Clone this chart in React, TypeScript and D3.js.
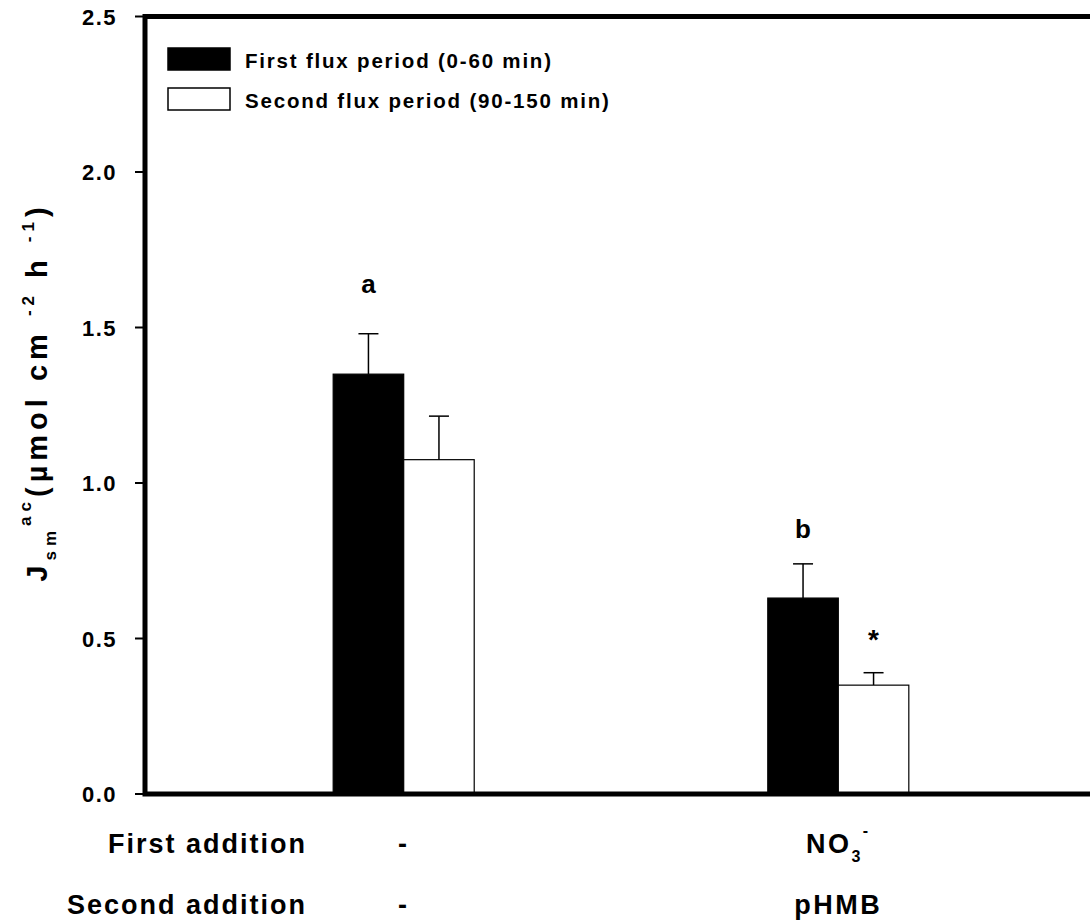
import React from 'react';
import * as d3 from 'd3';

// treatment groups along the x axis
const groups = ['control', 'nitrate-pHMB'];
const series = ['First flux period (0-60 min)', 'Second flux period (90-150 min)'];
const seriesFill = ['#000000', '#ffffff'];

// Jsm ac values
const firstFlux = [1.35, 0.63];
const secondFlux = [1.075, 0.35];
const firstErr = [0.13, 0.11];
const secondErr = [0.14, 0.04];
const firstMarks = ['a', 'b'];
const secondMarks = ['', '*'];
// gap (px) between error-bar cap and letter baseline
const firstMarkGap = [41, 26];
const secondMarkGap = [0, 24];

const yTicks = [0, 0.5, 1.0, 1.5, 2.0, 2.5];

// rows under the axis
const firstAddition = ['-', 'NO3-'];
const secondAddition = ['-', 'pHMB'];

const W = 1090;
const H = 923;
const left = 145;
const right = 1097;
const top = 16.5;
const bottom = 794;
const FONT = '"Liberation Sans", Arial, sans-serif';

export default function App() {
  const y = d3.scaleLinear().domain([0, 2.5]).range([bottom, top]);
  const x = d3
    .scaleBand<string>()
    .domain(groups)
    .range([left, right])
    .paddingInner(0.6755)
    .paddingOuter(0.433);
  const xs = d3.scaleBand<number>().domain([0, 1]).range([0, x.bandwidth()]);
  const values = [firstFlux, secondFlux];
  const errs = [firstErr, secondErr];
  const marks = [firstMarks, secondMarks];
  const gaps = [firstMarkGap, secondMarkGap];

  const sub = (t: string, dy: number, size: number, key: string) => (
    <tspan key={key} dy={dy} fontSize={size}>
      {t}
    </tspan>
  );

  const renderAddition = (label: string, cx: number, yb: number) => {
    if (label === 'NO3-') {
      return (
        <text x={cx} y={yb} textAnchor="middle" fontSize={27} letterSpacing={2.5}>
          NO
          <tspan dy={9} fontSize={16}>3</tspan>
          <tspan dy={-26} fontSize={16}>-</tspan>
        </text>
      );
    }
    return (
      <text x={cx} y={yb} textAnchor="middle" fontSize={27} letterSpacing={2.5}>
        {label}
      </text>
    );
  };

  return (
    <svg
      width={W}
      height={H}
      style={{ position: 'absolute', left: 0, top: 0, background: '#fff' }}
      fontFamily={FONT}
      fontWeight="bold"
    >
      {/* bars */}
      {groups.map((g, gi) =>
        series.map((s, si) => {
          const x0 = (x(g) ?? 0) + (xs(si) ?? 0);
          const bw = xs.bandwidth();
          const v = values[si][gi];
          const e = errs[si][gi];
          const cx = x0 + bw / 2;
          const m = marks[si][gi];
          return (
            <g key={g + s}>
              <line x1={cx} x2={cx} y1={y(v)} y2={y(v + e)} stroke="#000" strokeWidth={1.5} />
              <line x1={cx - 10} x2={cx + 10} y1={y(v + e)} y2={y(v + e)} stroke="#000" strokeWidth={1.5} />
              <rect
                x={x0}
                y={y(v)}
                width={bw}
                height={y(0) - y(v)}
                fill={seriesFill[si]}
                stroke="#000"
                strokeWidth={1.2}
              />
              {m && (
                <text
                  x={cx}
                  y={y(v + e) - gaps[si][gi]}
                  textAnchor="middle"
                  fontSize={m === '*' ? 28 : 26}
                >
                  {m}
                </text>
              )}
            </g>
          );
        })
      )}

      {/* frame */}
      <rect x={left} y={top} width={right - left} height={bottom - top} fill="none" stroke="#000" strokeWidth={5} />

      {/* y ticks */}
      {yTicks.map((t) => (
        <g key={t}>
          <line x1={left - 10} x2={left} y1={y(t)} y2={y(t)} stroke="#000" strokeWidth={2} />
          <text x={117} y={y(t) + 8} textAnchor="end" fontSize={22} letterSpacing={1.5}>
            {d3.format('.1f')(t)}
          </text>
        </g>
      ))}

      {/* y title */}
      <g transform="translate(47,392) rotate(-90)">
        <text textAnchor="middle" fontSize={29} letterSpacing={5}>
          J{sub('sm', 9, 17, 's')}
          {sub('ac', -25, 17, 'a')}
          {sub('(µmol cm ', 16, 29, 'b')}
          {sub('-2', -13, 17, 'c')}
          {sub(' h ', 13, 29, 'd')}
          {sub('-1', -13, 17, 'e')}
          {sub(')', 13, 29, 'f')}
        </text>
      </g>

      {/* legend */}
      {series.map((s, si) => (
        <g key={s} transform={`translate(168,${48 + si * 40})`}>
          <rect x={0} y={0} width={62} height={22} fill={seriesFill[si]} stroke="#000" strokeWidth={1.5} />
          <text x={77} y={20} fontSize={20.5} letterSpacing={1.8}>
            {s}
          </text>
        </g>
      ))}

      {/* addition rows */}
      <text x={307} y={853} textAnchor="end" fontSize={27} letterSpacing={2}>
        First addition
      </text>
      <text x={307} y={914} textAnchor="end" fontSize={27} letterSpacing={2}>
        Second addition
      </text>
      {groups.map((g, gi) => (
        <g key={g}>
          {renderAddition(firstAddition[gi], (x(g) ?? 0) + x.bandwidth() / 2, 853)}
          {renderAddition(secondAddition[gi], (x(g) ?? 0) + x.bandwidth() / 2, 914)}
        </g>
      ))}
    </svg>
  );
}
